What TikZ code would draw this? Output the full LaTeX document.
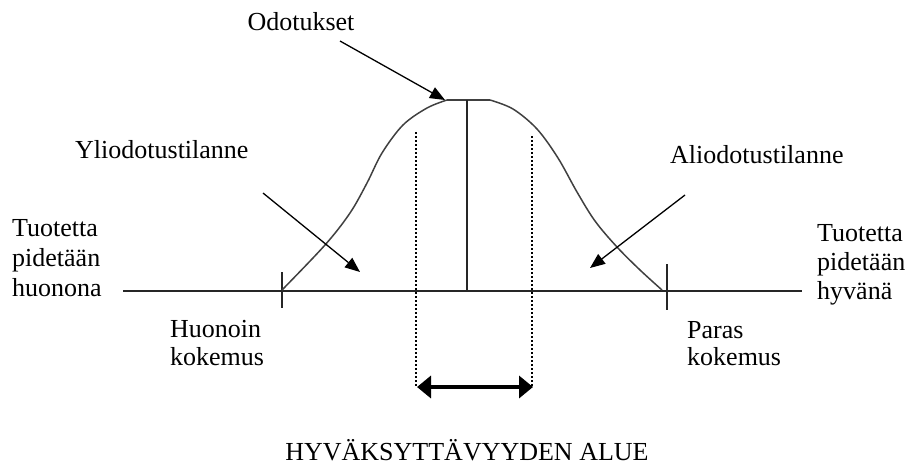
\documentclass[tikz,border=0pt]{standalone}
\usepackage{fontspec}
\setmainfont{Liberation Serif}
\usetikzlibrary{arrows.meta}
\begin{document}
\begin{tikzpicture}[x=1pt,y=-1pt,
  lbl/.style={font=\fontsize{26}{30}\selectfont, inner sep=0pt, anchor=base west},
  clbl/.style={font=\fontsize{26}{30}\selectfont, inner sep=0pt, anchor=base},
  axisline/.style={line width=1.6pt, draw=black!85},
  bell/.style={line width=1.5pt, draw=black!75, line join=round},
  pointer/.style={line width=1.3pt, -{Triangle[length=15pt,width=12pt]}},
  dotline/.style={line width=2pt, dash pattern=on 2pt off 2pt},
  rangearrow/.style={line width=4pt, {Triangle[length=14pt,width=22pt]}-{Triangle[length=14pt,width=22pt]}}]
\useasboundingbox (0,0) rectangle (910,467);
% axis
\coordinate (axL) at (123,291);
\coordinate (axR) at (802,291);
\draw[axisline] (axL) -- (axR);
% ticks
\coordinate (tlT) at (282,272); \coordinate (tlB) at (282,308);
\coordinate (trT) at (667,264); \coordinate (trB) at (667,310);
\draw[axisline] (tlT) -- (tlB);
\draw[axisline] (trT) -- (trB);
% bell curve
\coordinate (bTL) at (447,100);
\coordinate (bTR) at (490,100);
\draw[bell] plot[smooth, tension=0.55] coordinates {(282,290) (325,245) (350,213) (367,183) (382,153) (403,125) (427,108) (447,100)};
\draw[bell] (bTL) -- (bTR);
\draw[bell] plot[smooth, tension=0.55] coordinates {(490,100) (513,109) (537,129) (558,158) (577,192) (595,221) (617,247) (640,270) (662,290)};
% centre line
\coordinate (cT) at (467,100); \coordinate (cB) at (467,291);
\draw[axisline] (cT) -- (cB);
% dotted limits
\coordinate (dlT) at (416,132); \coordinate (dlB) at (416,386);
\coordinate (drT) at (532,136); \coordinate (drB) at (532,386);
\draw[dotline] (dlT) -- (dlB);
\draw[dotline] (drT) -- (drB);
% range arrow
\coordinate (raL) at (417,387); \coordinate (raR) at (533,387);
\draw[rangearrow] (raL) -- (raR);
% labels
\node[clbl] (odot) at (301,30) {Odotukset};
\node[lbl] (yli) at (75,158) {Yliodotustilanne};
\node[lbl] (ali) at (670,163) {Aliodotustilanne};
\node[lbl] (tl1) at (12,236) {Tuotetta};
\node[lbl] (tl2) at (12,266) {pidetään};
\node[lbl] (tl3) at (12,296) {huonona};
\node[lbl] (tr1) at (817,241) {Tuotetta};
\node[lbl] (tr2) at (817,270) {pidetään};
\node[lbl] (tr3) at (817,299) {hyvänä};
\node[lbl] (hk1) at (170,337) {Huonoin};
\node[lbl] (hk2) at (170,365) {kokemus};
\node[lbl] (pk1) at (687,338) {Paras};
\node[lbl] (pk2) at (687,365) {kokemus};
\node[clbl] (alue) at (467,460) {HYVÄKSYTTÄVYYDEN ALUE};
% pointer arrows
\coordinate (oS) at (340,41); \coordinate (oE) at (445,100);
\coordinate (yS) at (263,193); \coordinate (yE) at (360,272);
\coordinate (aS) at (685,195); \coordinate (aE) at (590,268);
\draw[pointer] (oS) -- (oE);
\draw[pointer] (yS) -- (yE);
\draw[pointer] (aS) -- (aE);
\end{tikzpicture}
\end{document}
